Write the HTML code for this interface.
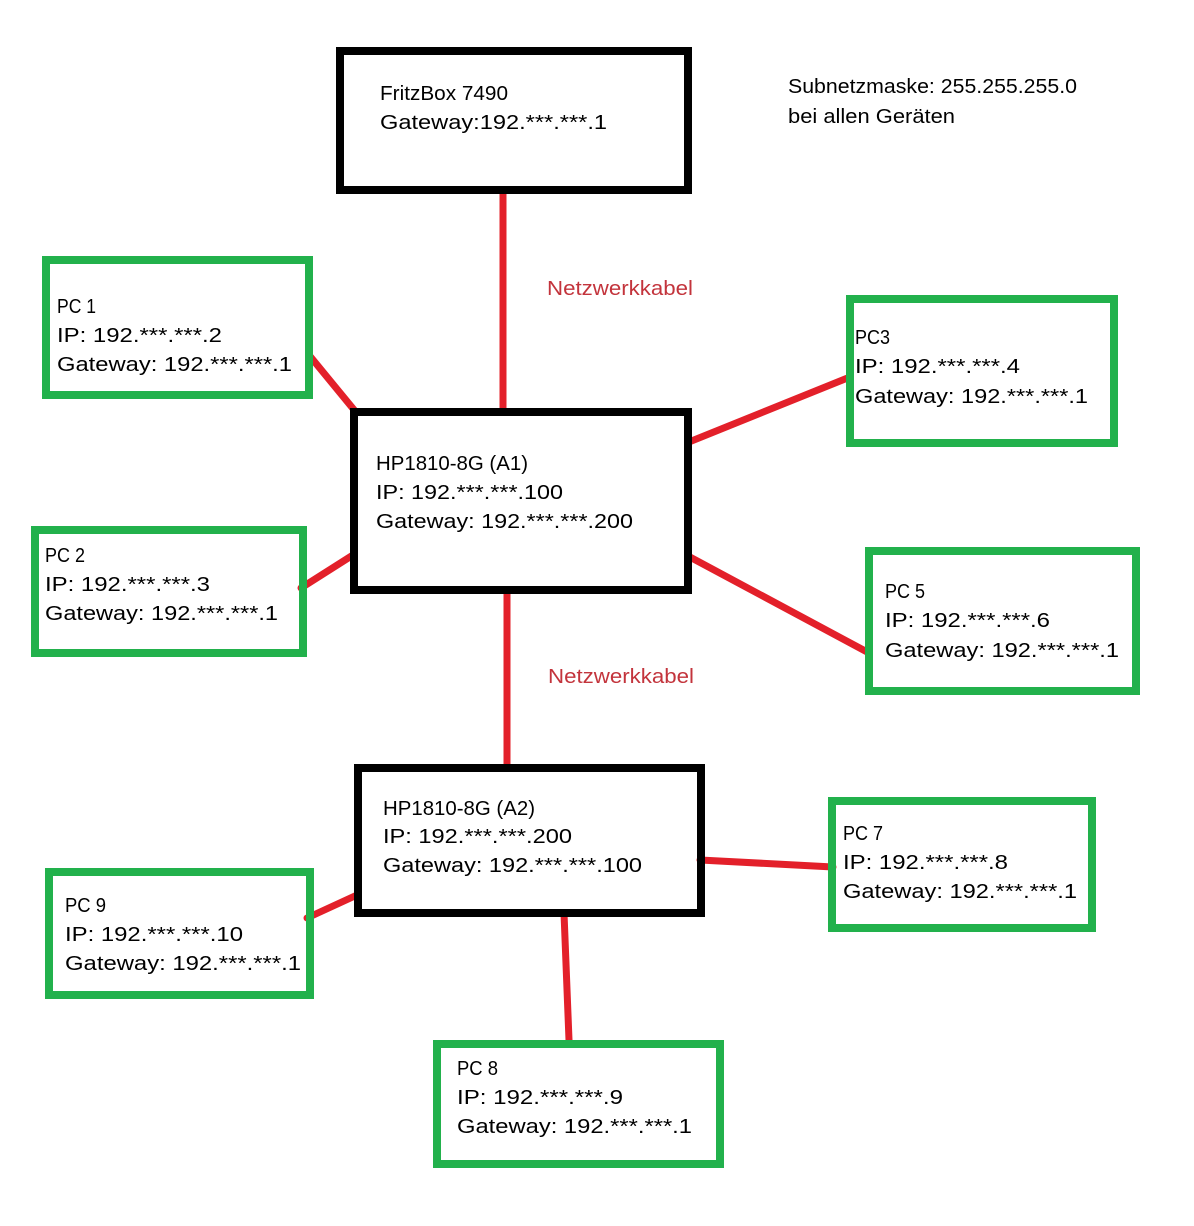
<!DOCTYPE html>
<html>
<head>
<meta charset="utf-8">
<style>
html,body{margin:0;padding:0;background:#fff;}
svg{display:block;}
text{font-family:"Liberation Sans","DejaVu Sans",sans-serif;font-size:20px;fill:#000;}
.r{fill:#c3343c;}
</style>
</head>
<body>
<svg width="1194" height="1226" viewBox="0 0 1194 1226" xmlns="http://www.w3.org/2000/svg">
<rect x="0" y="0" width="1194" height="1226" fill="#fff"/>

<!-- red connectors -->
<g stroke="#e3202a" stroke-width="7" stroke-linecap="round" fill="none">
  <line x1="503" y1="192" x2="503" y2="412"/>
  <line x1="507" y1="592" x2="507" y2="767"/>
  <line x1="309" y1="355" x2="355" y2="411"/>
  <line x1="301" y1="588" x2="353" y2="555"/>
  <line x1="689" y1="442" x2="850" y2="377"/>
  <line x1="688" y1="556" x2="869" y2="653"/>
  <line x1="700" y1="860" x2="833" y2="867"/>
  <line x1="307" y1="918" x2="357" y2="895"/>
  <line x1="564" y1="913" x2="569" y2="1040"/>
</g>

<!-- black boxes -->
<g fill="none" stroke="#000" stroke-width="8">
  <rect x="340" y="51" width="348" height="139"/>
  <rect x="354" y="412" width="334" height="178"/>
  <rect x="358" y="768" width="343" height="145"/>
</g>

<!-- green boxes -->
<g fill="none" stroke="#22b14c" stroke-width="8">
  <rect x="46" y="260" width="263" height="135"/>
  <rect x="35" y="530" width="268" height="123"/>
  <rect x="850" y="299" width="264" height="144"/>
  <rect x="869" y="551" width="267" height="140"/>
  <rect x="832" y="801" width="260" height="127"/>
  <rect x="49" y="872" width="261" height="123"/>
  <rect x="437" y="1044" width="283" height="120"/>
</g>

<!-- FritzBox -->
<text x="380" y="100" textLength="128" lengthAdjust="spacingAndGlyphs">FritzBox 7490</text>
<text x="380" y="129" textLength="227" lengthAdjust="spacingAndGlyphs">Gateway:192.***.***.1</text>

<!-- Subnet -->
<text x="788" y="93" textLength="289" lengthAdjust="spacingAndGlyphs">Subnetzmaske: 255.255.255.0</text>
<text x="788" y="123" textLength="167" lengthAdjust="spacingAndGlyphs">bei allen Geräten</text>

<!-- Netzwerkkabel labels -->
<text class="r" x="547" y="295" textLength="146" lengthAdjust="spacingAndGlyphs">Netzwerkkabel</text>
<text class="r" x="548" y="683" textLength="146" lengthAdjust="spacingAndGlyphs">Netzwerkkabel</text>

<!-- PC1 -->
<text x="57" y="313" textLength="39" lengthAdjust="spacingAndGlyphs">PC 1</text>
<text x="57" y="342" textLength="165" lengthAdjust="spacingAndGlyphs">IP: 192.***.***.2</text>
<text x="57" y="371" textLength="235" lengthAdjust="spacingAndGlyphs">Gateway: 192.***.***.1</text>

<!-- A1 -->
<text x="376" y="470" textLength="152" lengthAdjust="spacingAndGlyphs">HP1810-8G (A1)</text>
<text x="376" y="499" textLength="187" lengthAdjust="spacingAndGlyphs">IP: 192.***.***.100</text>
<text x="376" y="528" textLength="257" lengthAdjust="spacingAndGlyphs">Gateway: 192.***.***.200</text>

<!-- PC3 -->
<text x="855" y="344" textLength="35" lengthAdjust="spacingAndGlyphs">PC3</text>
<text x="855" y="373" textLength="165" lengthAdjust="spacingAndGlyphs">IP: 192.***.***.4</text>
<text x="855" y="403" textLength="233" lengthAdjust="spacingAndGlyphs">Gateway: 192.***.***.1</text>

<!-- PC5 -->
<text x="885" y="598" textLength="40" lengthAdjust="spacingAndGlyphs">PC 5</text>
<text x="885" y="627" textLength="165" lengthAdjust="spacingAndGlyphs">IP: 192.***.***.6</text>
<text x="885" y="657" textLength="234" lengthAdjust="spacingAndGlyphs">Gateway: 192.***.***.1</text>

<!-- PC2 -->
<text x="45" y="562" textLength="40" lengthAdjust="spacingAndGlyphs">PC 2</text>
<text x="45" y="591" textLength="165" lengthAdjust="spacingAndGlyphs">IP: 192.***.***.3</text>
<text x="45" y="620" textLength="233" lengthAdjust="spacingAndGlyphs">Gateway: 192.***.***.1</text>

<!-- A2 -->
<text x="383" y="815" textLength="152" lengthAdjust="spacingAndGlyphs">HP1810-8G (A2)</text>
<text x="383" y="843" textLength="189" lengthAdjust="spacingAndGlyphs">IP: 192.***.***.200</text>
<text x="383" y="872" textLength="259" lengthAdjust="spacingAndGlyphs">Gateway: 192.***.***.100</text>

<!-- PC7 -->
<text x="843" y="840" textLength="40" lengthAdjust="spacingAndGlyphs">PC 7</text>
<text x="843" y="869" textLength="165" lengthAdjust="spacingAndGlyphs">IP: 192.***.***.8</text>
<text x="843" y="898" textLength="234" lengthAdjust="spacingAndGlyphs">Gateway: 192.***.***.1</text>

<!-- PC9 -->
<text x="65" y="912" textLength="41" lengthAdjust="spacingAndGlyphs">PC 9</text>
<text x="65" y="941" textLength="178" lengthAdjust="spacingAndGlyphs">IP: 192.***.***.10</text>
<text x="65" y="970" textLength="236" lengthAdjust="spacingAndGlyphs">Gateway: 192.***.***.1</text>

<!-- PC8 -->
<text x="457" y="1075" textLength="41" lengthAdjust="spacingAndGlyphs">PC 8</text>
<text x="457" y="1104" textLength="166" lengthAdjust="spacingAndGlyphs">IP: 192.***.***.9</text>
<text x="457" y="1133" textLength="235" lengthAdjust="spacingAndGlyphs">Gateway: 192.***.***.1</text>
</svg>
</body>
</html>
